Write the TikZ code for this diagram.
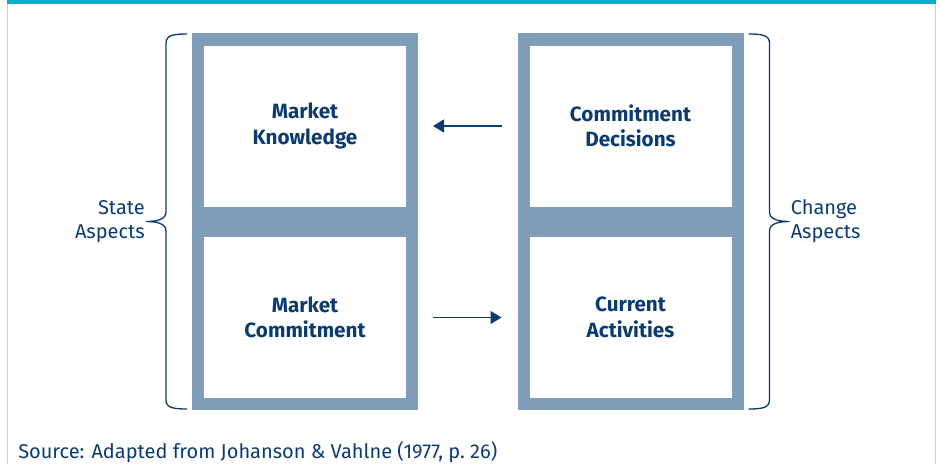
\documentclass[tikz,border=0pt]{standalone}
\usepackage{fontspec}
\setmainfont{Fira Sans}
\usetikzlibrary{arrows.meta}
\definecolor{framegray}{RGB}{127,157,184}
\definecolor{inkblue}{RGB}{12,60,110}
\definecolor{barteal}{RGB}{0,175,200}
\definecolor{edgegray}{RGB}{205,205,205}
\tikzstyle{frame} = [rectangle, minimum width=169.5pt, minimum height=282.75pt, inner sep=0pt, outer sep=0pt, fill=framegray]
\tikzstyle{cell} = [rectangle, minimum width=151.5pt, minimum height=120.75pt, inner sep=0pt, outer sep=0pt, fill=white, text=inkblue, align=center, font=\fontsize{15.5}{19}\selectfont\bfseries]
\tikzstyle{aspect} = [inner sep=1.5pt, text=inkblue, font=\fontsize{15}{18}\selectfont]
\tikzstyle{arrow} = [line width=1pt, draw=inkblue, -{Triangle[length=8.25pt, width=9.75pt]}]
\tikzstyle{bracket} = [line width=1pt, draw=inkblue]

\begin{document}
\begin{tikzpicture}[x=0.75pt, y=-0.75pt]
\useasboundingbox (0,0) rectangle (940,464);

% Page edges
\fill[barteal] (7,0) rectangle (936,4);
\draw[edgegray, line width=0.9pt] (7.5,4) -- (7.5,464);
\draw[edgegray, line width=0.9pt] (935.5,4) -- (935.5,464);

% Nodes
\node (leftframe) [frame] at (305,221.5) {};
\node (rightframe) [frame] at (630.5,221.5) {};
\node (knowledge) [cell] at (305,126) {Market\\Knowledge};
\node (commitment) [cell] at (305,317.5) {Market\\Commitment};
\node (decisions) [cell] at (630.5,126) {Commitment\\Decisions};
\node (activities) [cell] at (630.5,317.5) {Current\\Activities};

\coordinate (statetip) at ([xshift=-33.75pt]leftframe.west);
\coordinate (changetip) at ([xshift=33.75pt]rightframe.east);
\node (state) [aspect, anchor=east, align=right] at (statetip) {State\\Aspects};
\node (change) [aspect, anchor=west, align=left] at (changetip) {Change\\Aspects};

\node (source) [aspect, anchor=west] at (16,452) {Source: Adapted from Johanson \& Vahlne (1977, p.~26)};

% Arrows
\draw [arrow, shorten <=12pt, shorten >=11.25pt] (rightframe.west |- decisions) -- (leftframe.east |- knowledge);
\draw [arrow, shorten <=11.25pt, shorten >=12pt] (leftframe.east |- commitment) -- (rightframe.west |- activities);

% Braces
\draw [bracket] ([xshift=-3.75pt, yshift=-0.75pt]leftframe.north west)
  .. controls +(-13,0) and +(0,-8) .. ++(-21,9) -- ++(0,169)
  .. controls +(0,7) and +(12,0) .. ++(-20,9.5)
  .. controls +(12,0) and +(0,-7) .. ++(20,9.5) -- ++(0,169)
  .. controls +(0,8) and +(-13,0) .. ++(21,9);
\draw [bracket] ([xshift=3.75pt, yshift=-0.75pt]rightframe.north east)
  .. controls +(13,0) and +(0,-8) .. ++(21,9) -- ++(0,169)
  .. controls +(0,7) and +(-12,0) .. ++(20,9.5)
  .. controls +(-12,0) and +(0,-7) .. ++(-20,9.5) -- ++(0,169)
  .. controls +(0,8) and +(13,0) .. ++(-21,9);

\end{tikzpicture}
\end{document}
